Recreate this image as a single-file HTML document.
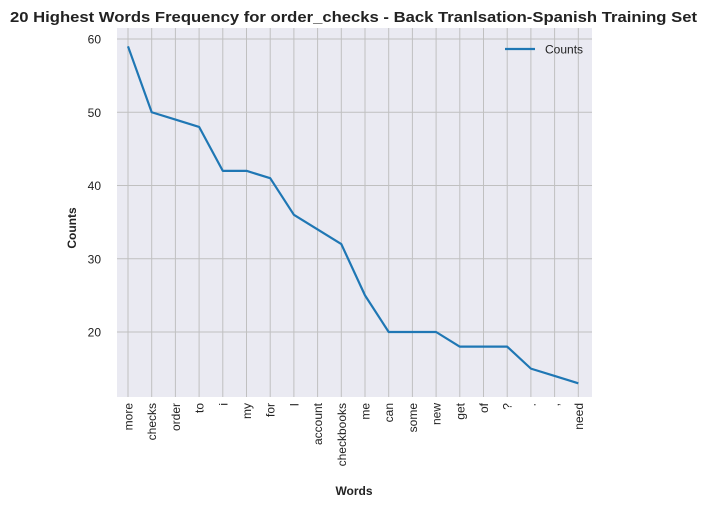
<!DOCTYPE html>
<html><head><meta charset="utf-8"><style>
body{margin:0;background:#fff;}
svg{display:block;font-family:"Liberation Sans","DejaVu Sans",sans-serif;}
</style></head><body>
<svg id="chart" width="707" height="507">
<text x="10" y="22" textLength="687" lengthAdjust="spacingAndGlyphs" font-size="15" font-weight="bold" fill="#222">20 Highest Words Frequency for order_checks - Back Tranlsation-Spanish Training Set</text>
<rect x="117" y="28" width="475" height="369" fill="#eaeaf2"/>
<g id="grid"></g>
<g id="xlabels"></g>
<g id="ylabels"></g>
<path id="line" fill="none" stroke="#1f77b4" stroke-width="2.2" stroke-linejoin="round"/>
<text transform="translate(76,228) rotate(-90)" text-anchor="middle" font-size="12" font-weight="bold" fill="#222">Counts</text>
<text x="354" y="495" text-anchor="middle" font-size="12" font-weight="bold" fill="#222">Words</text>
<g>
<line x1="505" y1="49" x2="535" y2="49" stroke="#1f77b4" stroke-width="2.2"/>
<text x="545" y="53.5" font-size="12" fill="#222">Counts</text>
</g>
</svg>
<script>
const words=["more","checks","order","to","i","my","for","I","account","checkbooks","me","can","some","new","get","of","?",".",",","need"];
const counts=[59,50,49,48,42,42,41,36,34,32,25,20,20,20,18,18,18,15,14,13];
const yTicks=[20,30,40,50,60];
const NS="http://www.w3.org/2000/svg";
const x=i=>128+i*23.7;
const y=v=>332-(v-20)*7.325;
const grid=document.getElementById('grid'),xl=document.getElementById('xlabels'),yl=document.getElementById('ylabels');
function mk(t,a,p){const e=document.createElementNS(NS,t);for(const k in a)e.setAttribute(k,a[k]);p.appendChild(e);return e;}
yTicks.forEach(v=>{
const g=mk('line',{x1:117,x2:592,y1:y(v),y2:y(v),stroke:'#c0c0c0','stroke-width':1},grid);


const t=mk('text',{x:101,y:y(v)+4.5,'text-anchor':'end','font-size':12,fill:'#222'},yl);
t.textContent=v;


});
words.forEach((w,i)=>{
const g=mk('line',{x1:x(i),x2:x(i),y1:28,y2:397,stroke:'#c0c0c0','stroke-width':1},grid);


const t=mk('text',{transform:`translate(${x(i)+4.5},403) rotate(-90)`,'text-anchor':'end','font-size':12,fill:'#222'},xl);
t.textContent=w;


});
document.getElementById('line').setAttribute('d',counts.map((c,i)=>(i?'L':'M')+x(i)+','+y(c)).join(' '));
</script>
</body></html>
